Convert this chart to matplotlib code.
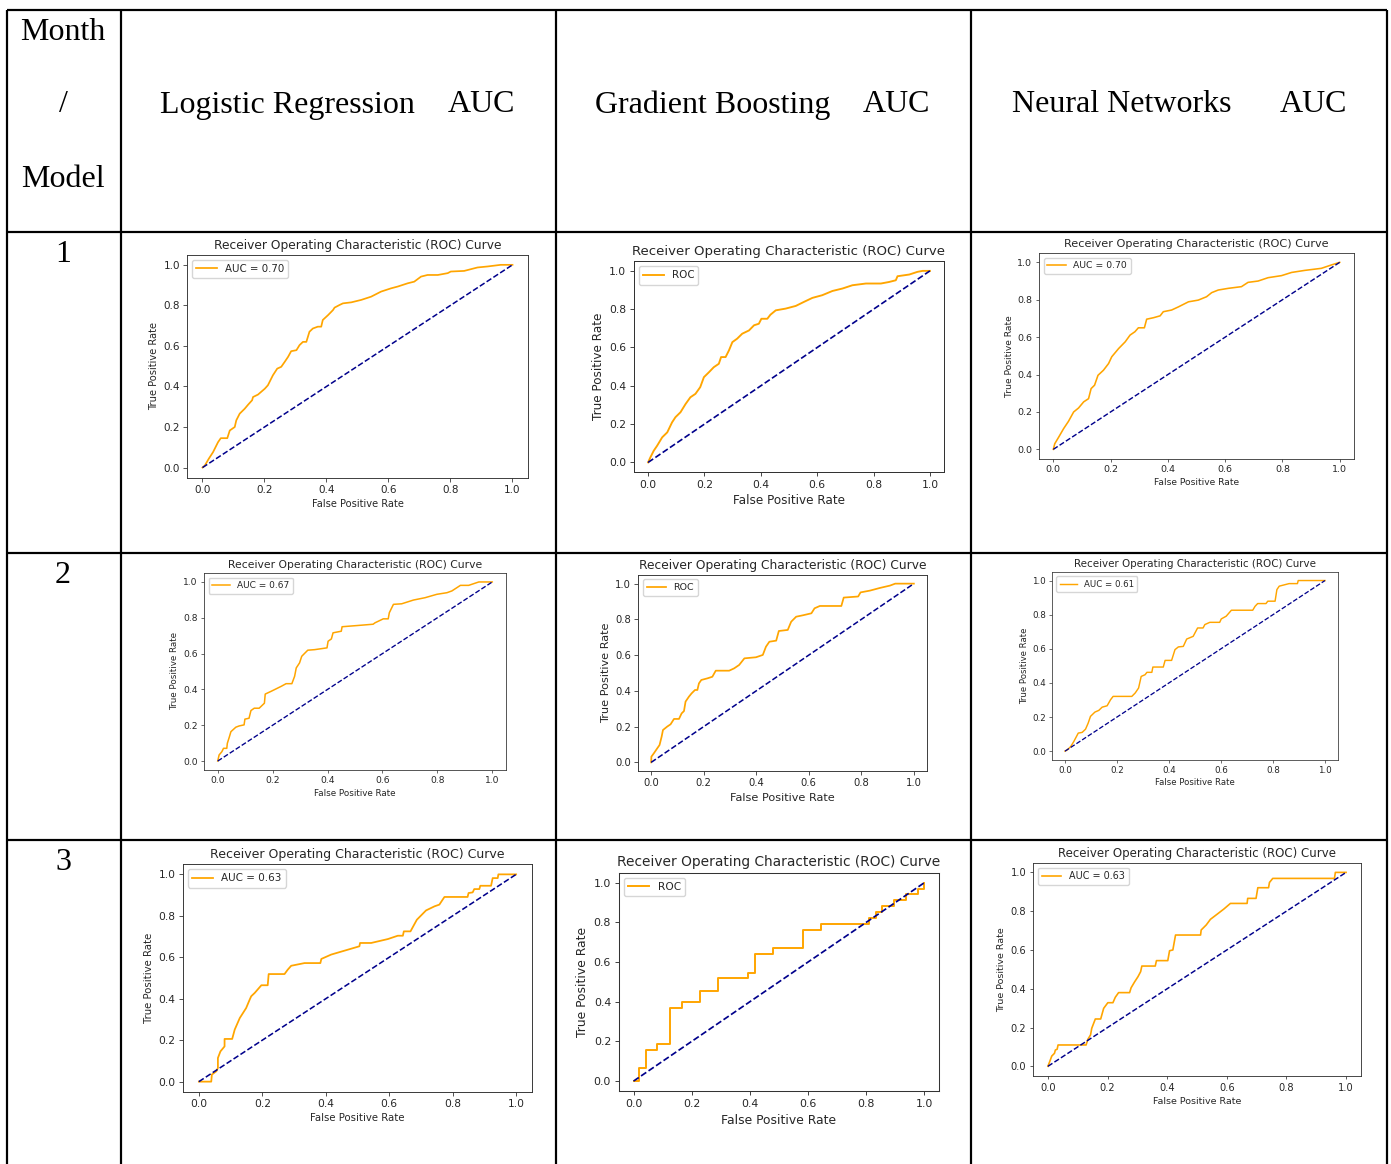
import matplotlib
matplotlib.use("Agg")
import matplotlib.pyplot as plt

W, H = 1391, 1164
DPI = 100

# ---------------- data ----------------
months = ["1", "2", "3"]
models = ["Logistic Regression", "Gradient Boosting", "Neural Networks"]
header_suffix = "AUC"
corner_lines = ["Month", "/", "Model"]
legend_labels = [["AUC = 0.70", "ROC", "AUC = 0.70"],
                 ["AUC = 0.67", "ROC", "AUC = 0.61"],
                 ["AUC = 0.63", "ROC", "AUC = 0.63"]]
chance = [0.0, 1.0]
xticks = [0.0, 0.2, 0.4, 0.6, 0.8, 1.0]

lr1_fpr = [0, 0.0075, 0.020, 0.034, 0.050, 0.059, 0.080, 0.088, 0.104, 0.109, 0.120, 0.136, 0.147, 0.160,
           0.163, 0.179, 0.201, 0.211, 0.227, 0.241, 0.254, 0.265, 0.276, 0.286, 0.303, 0.313, 0.324,
           0.335, 0.345, 0.356, 0.372, 0.383, 0.388, 0.405, 0.421, 0.426, 0.442, 0.453, 0.480, 0.512,
           0.544, 0.576, 0.608, 0.630, 0.662, 0.683, 0.705, 0.726, 0.759, 0.791, 0.801, 0.844, 0.887,
           0.920, 0.962, 1.0]
lr1_tpr = [0, 0.010, 0.043, 0.076, 0.125, 0.145, 0.145, 0.183, 0.200, 0.233, 0.266, 0.290, 0.310, 0.332,
           0.348, 0.360, 0.389, 0.406, 0.455, 0.488, 0.497, 0.521, 0.546, 0.574, 0.579, 0.604, 0.620,
           0.620, 0.670, 0.686, 0.695, 0.695, 0.728, 0.752, 0.777, 0.789, 0.802, 0.810, 0.815, 0.827,
           0.843, 0.868, 0.884, 0.893, 0.909, 0.917, 0.942, 0.950, 0.950, 0.959, 0.967, 0.970, 0.987,
           0.992, 1.0, 1.0]

gb1_fpr = [0, 0.008, 0.020, 0.032, 0.050, 0.068, 0.085, 0.097, 0.115, 0.133, 0.150, 0.168, 0.185, 0.198,
           0.216, 0.233, 0.251, 0.259, 0.275, 0.287, 0.299, 0.316, 0.334, 0.358, 0.376, 0.393, 0.402,
           0.423, 0.434, 0.453, 0.488, 0.524, 0.553, 0.583, 0.618, 0.654, 0.690, 0.725, 0.773, 0.826,
           0.855, 0.879, 0.885, 0.927, 0.956, 0.974, 1.0]
gb1_tpr = [0, 0.026, 0.061, 0.087, 0.131, 0.157, 0.209, 0.236, 0.262, 0.305, 0.340, 0.358, 0.393, 0.445,
           0.471, 0.497, 0.515, 0.550, 0.550, 0.585, 0.628, 0.646, 0.672, 0.689, 0.716, 0.724, 0.750,
           0.750, 0.771, 0.794, 0.803, 0.817, 0.838, 0.859, 0.873, 0.895, 0.908, 0.925, 0.934, 0.934,
           0.942, 0.951, 0.972, 0.981, 0.995, 1.0, 1.0]

nn1_fpr = [0, 0.005, 0.019, 0.036, 0.053, 0.071, 0.088, 0.106, 0.123, 0.132, 0.144, 0.156, 0.175, 0.193,
           0.204, 0.228, 0.251, 0.268, 0.285, 0.297, 0.318, 0.326, 0.350, 0.373, 0.384, 0.413, 0.437,
           0.472, 0.506, 0.535, 0.553, 0.576, 0.611, 0.657, 0.680, 0.715, 0.750, 0.797, 0.832, 0.878,
           0.936, 0.971, 1.0]
nn1_tpr = [0, 0.030, 0.066, 0.111, 0.150, 0.200, 0.221, 0.254, 0.271, 0.325, 0.343, 0.396, 0.423, 0.459,
           0.495, 0.539, 0.575, 0.611, 0.629, 0.650, 0.650, 0.696, 0.704, 0.714, 0.736, 0.745, 0.762,
           0.789, 0.798, 0.816, 0.838, 0.852, 0.861, 0.870, 0.893, 0.900, 0.918, 0.929, 0.946, 0.957,
           0.968, 0.986, 1.0]

lr2_fpr = [0, 0.005, 0.015, 0.021, 0.033, 0.035, 0.042, 0.048, 0.066, 0.078, 0.096, 0.099, 0.114, 0.121,
           0.133, 0.151, 0.170, 0.173, 0.194, 0.231, 0.249, 0.270, 0.280, 0.286, 0.298, 0.306, 0.328,
           0.353, 0.398, 0.402, 0.414, 0.420, 0.450, 0.453, 0.511, 0.566, 0.573, 0.603, 0.621, 0.625,
           0.640, 0.670, 0.713, 0.755, 0.798, 0.835, 0.853, 0.884, 0.914, 0.951, 1.0]
lr2_tpr = [0, 0.034, 0.052, 0.071, 0.071, 0.099, 0.133, 0.164, 0.189, 0.196, 0.202, 0.234, 0.239, 0.282,
           0.295, 0.295, 0.323, 0.374, 0.389, 0.417, 0.432, 0.432, 0.473, 0.520, 0.548, 0.585, 0.619,
           0.622, 0.632, 0.669, 0.682, 0.716, 0.725, 0.750, 0.757, 0.764, 0.772, 0.794, 0.794, 0.828,
           0.875, 0.878, 0.899, 0.912, 0.931, 0.940, 0.950, 0.981, 0.981, 1.0, 1.0]

gb2_fpr = [0, 0.001, 0.010, 0.023, 0.032, 0.040, 0.045, 0.061, 0.074, 0.087, 0.106, 0.116, 0.125, 0.131,
           0.144, 0.154, 0.167, 0.176, 0.182, 0.191, 0.214, 0.233, 0.246, 0.297, 0.316, 0.335, 0.355,
           0.399, 0.425, 0.437, 0.450, 0.476, 0.486, 0.520, 0.533, 0.552, 0.578, 0.610, 0.622, 0.642,
           0.724, 0.733, 0.788, 0.797, 0.833, 0.871, 0.909, 0.929, 1.0]
gb2_tpr = [0, 0.032, 0.050, 0.078, 0.097, 0.144, 0.181, 0.200, 0.213, 0.243, 0.243, 0.274, 0.287, 0.340,
           0.368, 0.386, 0.405, 0.405, 0.442, 0.461, 0.470, 0.479, 0.513, 0.513, 0.526, 0.545, 0.582,
           0.588, 0.601, 0.647, 0.675, 0.681, 0.735, 0.741, 0.787, 0.815, 0.823, 0.834, 0.862, 0.875,
           0.875, 0.922, 0.928, 0.951, 0.961, 0.976, 0.989, 1.0, 1.0]

nn2_fpr = [0, 0.009, 0.022, 0.034, 0.051, 0.066, 0.079, 0.089, 0.098, 0.115, 0.130, 0.143, 0.162, 0.175,
           0.185, 0.257, 0.270, 0.283, 0.293, 0.308, 0.315, 0.334, 0.338, 0.378, 0.385, 0.410, 0.423,
           0.436, 0.455, 0.468, 0.493, 0.510, 0.531, 0.538, 0.557, 0.595, 0.601, 0.620, 0.640, 0.722,
           0.731, 0.741, 0.773, 0.780, 0.808, 0.815, 0.824, 0.862, 0.894, 0.897, 1.0]
nn2_tpr = [0, 0.008, 0.027, 0.057, 0.106, 0.110, 0.129, 0.164, 0.204, 0.229, 0.239, 0.258, 0.266, 0.301,
           0.321, 0.321, 0.341, 0.370, 0.438, 0.448, 0.462, 0.462, 0.493, 0.493, 0.532, 0.532, 0.595,
           0.611, 0.614, 0.657, 0.673, 0.722, 0.722, 0.742, 0.755, 0.755, 0.775, 0.791, 0.826, 0.826,
           0.849, 0.865, 0.865, 0.879, 0.879, 0.947, 0.967, 0.982, 0.982, 1.0, 1.0]

lr3_fpr = [0, 0.039, 0.041, 0.055, 0.060, 0.060, 0.068, 0.081, 0.081, 0.105, 0.113, 0.129, 0.149, 0.160,
           0.165, 0.176, 0.197, 0.217, 0.220, 0.270, 0.280, 0.291, 0.333, 0.383, 0.386, 0.417, 0.506,
           0.508, 0.543, 0.596, 0.627, 0.643, 0.646, 0.667, 0.687, 0.716, 0.743, 0.758, 0.774, 0.847,
           0.850, 0.863, 0.868, 0.884, 0.887, 0.921, 0.926, 0.942, 0.944, 1.0]
lr3_tpr = [0, 0, 0.034, 0.050, 0.066, 0.114, 0.146, 0.170, 0.206, 0.206, 0.251, 0.307, 0.355, 0.395,
           0.412, 0.428, 0.465, 0.465, 0.519, 0.519, 0.540, 0.559, 0.572, 0.572, 0.592, 0.613, 0.653,
           0.669, 0.669, 0.688, 0.704, 0.704, 0.725, 0.725, 0.781, 0.826, 0.846, 0.854, 0.891, 0.891,
           0.910, 0.913, 0.929, 0.929, 0.945, 0.945, 0.982, 0.982, 1.0, 1.0]

gb3_fpr = [0, 0.019, 0.019, 0.042, 0.042, 0.080, 0.080, 0.125, 0.125, 0.167, 0.167, 0.229, 0.229, 0.292,
           0.292, 0.394, 0.394, 0.417, 0.417, 0.480, 0.480, 0.583, 0.583, 0.646, 0.646, 0.811, 0.811,
           0.834, 0.834, 0.854, 0.854, 0.897, 0.897, 0.937, 0.937, 0.979, 0.979, 1.0, 1.0]
gb3_tpr = [0, 0, 0.064, 0.064, 0.158, 0.158, 0.186, 0.186, 0.367, 0.367, 0.399, 0.399, 0.455, 0.455,
           0.520, 0.520, 0.547, 0.547, 0.639, 0.639, 0.669, 0.669, 0.762, 0.762, 0.794, 0.794, 0.824,
           0.824, 0.852, 0.852, 0.883, 0.883, 0.913, 0.913, 0.945, 0.945, 0.970, 0.970, 1.0]

nn3_fpr = [0, 0.006, 0.013, 0.022, 0.025, 0.031, 0.034, 0.128, 0.134, 0.143, 0.147, 0.159, 0.177, 0.187,
           0.201, 0.218, 0.226, 0.237, 0.274, 0.279, 0.291, 0.302, 0.311, 0.315, 0.360, 0.364, 0.402,
           0.408, 0.419, 0.428, 0.512, 0.514, 0.531, 0.545, 0.568, 0.590, 0.612, 0.668, 0.670, 0.698,
           0.704, 0.740, 0.743, 0.754, 0.961, 0.964, 1.0]
nn3_tpr = [0, 0.024, 0.053, 0.067, 0.084, 0.088, 0.110, 0.110, 0.139, 0.162, 0.196, 0.244, 0.244, 0.299,
           0.328, 0.328, 0.356, 0.380, 0.380, 0.405, 0.436, 0.462, 0.488, 0.517, 0.517, 0.545, 0.545,
           0.596, 0.600, 0.677, 0.677, 0.703, 0.729, 0.758, 0.785, 0.811, 0.840, 0.840, 0.866, 0.866,
           0.921, 0.921, 0.948, 0.969, 0.969, 1.0, 1.0]

curves = [[(lr1_fpr, lr1_tpr), (gb1_fpr, gb1_tpr), (nn1_fpr, nn1_tpr)],
          [(lr2_fpr, lr2_tpr), (gb2_fpr, gb2_tpr), (nn2_fpr, nn2_tpr)],
          [(lr3_fpr, lr3_tpr), (gb3_fpr, gb3_tpr), (nn3_fpr, nn3_tpr)]]

# ---------------- layout (pixels) ----------------
# axes boxes: left, top, right, bottom ; fonts: title, label, tick, legend (px)
boxes = [[(187, 254.7, 528, 477.7), (634, 261.3, 944, 472), (1039, 253, 1354, 458.7)],
         [(204, 573, 506, 770), (638, 574.7, 927, 771.3), (1052, 572, 1338, 759.7)],
         [(183, 864, 532, 1092), (619, 872.7, 939, 1091), (1033, 862.7, 1361, 1076)]]
fonts = [[(12.2, 9.9, 10.4, 10.2), (13.3, 12.0, 10.7, 10.2), (11.3, 9.1, 9.5, 9.3)],
         [(10.8, 8.8, 9.2, 9.0), (12.3, 11.2, 10.0, 9.5), (10.3, 8.5, 8.8, 8.6)],
         [(12.5, 10.1, 10.6, 10.4), (13.7, 12.4, 11.0, 10.5), (11.7, 9.5, 9.9, 9.7)]]

col_x = [7, 121, 556, 971, 1387]
row_y = [10, 232, 553, 840]
header_left = [(160, 448), (595, 863), (1012, 1280)]
corner_baselines = [40, 112.5, 187]
row_baselines = [262, 583, 870]

TXT = "#262626"


def pt(px):
    return px * 72.0 / DPI


serif = ["Liberation Serif", "DejaVu Serif"]
fig = plt.figure(figsize=(W / DPI, H / DPI), dpi=DPI)
fig.patch.set_facecolor("white")

bg = fig.add_axes([0, 0, 1, 1])
bg.set_xlim(0, W)
bg.set_ylim(H, 0)
bg.axis("off")

lw_table = pt(2.2)
for x in col_x:
    bg.plot([x, x], [row_y[0], H], color="black", lw=lw_table, solid_capstyle="butt")
for y in row_y:
    bg.plot([col_x[0], col_x[-1]], [y, y], color="black", lw=lw_table, solid_capstyle="butt")

head_fs = pt(32)
for txt, yb in zip(corner_lines, corner_baselines):
    bg.text(63, yb, txt, ha="center", va="baseline", fontsize=head_fs, family=serif)
for name, (x1, x2) in zip(models, header_left):
    bg.text(x1, 112.5, name, ha="left", va="baseline", fontsize=head_fs, family=serif)
    bg.text(x2, 112.5, header_suffix, ha="left", va="baseline", fontsize=head_fs, family=serif)
for m, yb in zip(months, row_baselines):
    bg.text(63, yb, m, ha="center", va="baseline", fontsize=head_fs, family=serif)

for r in range(3):
    for c in range(3):
        l, t, rr, b = boxes[r][c]
        tpx, lpx, kpx, gpx = fonts[r][c]
        s = tpx / 12.0
        ax = fig.add_axes([l / W, 1 - b / H, (rr - l) / W, (b - t) / H])
        fpr, tpr = curves[r][c]
        ax.plot(fpr, tpr, color="orange", lw=pt(1.7 * s), label=legend_labels[r][c])
        ax.plot(chance, chance, color="darkblue", ls="--", lw=pt(1.5 * s))
        ax.set_xticks(xticks)
        ax.set_yticks(xticks)
        ax.set_title("Receiver Operating Characteristic (ROC) Curve", fontsize=pt(tpx),
                     pad=pt(6 * s), color=TXT)
        ax.set_xlabel("False Positive Rate", fontsize=pt(lpx), labelpad=pt(4 * s), color=TXT)
        ax.set_ylabel("True Positive Rate", fontsize=pt(lpx), labelpad=pt(4 * s), color=TXT)
        ax.tick_params(labelsize=pt(kpx), length=pt(3.5 * s), width=pt(0.8 * s), pad=pt(3.5 * s),
                       labelcolor=TXT, color="#333333")
        for sp in ax.spines.values():
            sp.set_linewidth(pt(0.9 * s))
            sp.set_color("#333333")
        ax.set_xlim(-0.05, 1.05)
        ax.set_ylim(-0.05, 1.05)
        leg = ax.legend(loc="upper left", fontsize=pt(gpx))
        for tx in leg.get_texts():
            tx.set_color(TXT)

fig.savefig("out.png", dpi=DPI)
